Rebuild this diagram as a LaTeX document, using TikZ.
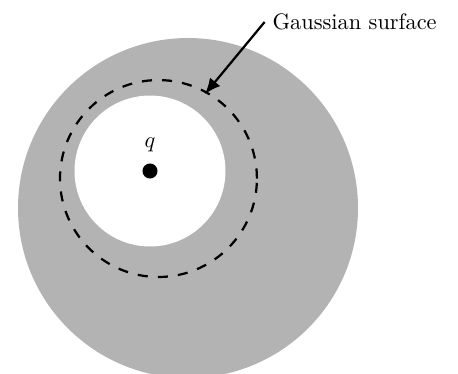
\documentclass[tikz,border=0pt]{standalone}
\usepackage{amsmath,amssymb}
\usepackage{tikz}
\usetikzlibrary{arrows.meta,positioning,calc}
\definecolor{shellgray}{RGB}{179,179,179}

\begin{document}
\begin{tikzpicture}
            \clip (-2.355,-3.187) rectangle (4.836,2.685);
            \useasboundingbox (-2.355,-3.187) rectangle (4.836,2.685);
            % conducting shell with cavity
            \fill[shellgray] (0.597,-0.581) circle (2.669);
            \fill[white] (0,0) circle (1.185);
            % gaussian surface
            \draw[line width=1pt, dash pattern=on 4.5pt off 4.5pt] (0.133,-0.118) circle (1.546);
            \coordinate (gtip) at (0.864,1.209);
            % charge
            \node[circle, fill=black, inner sep=0pt, minimum size=0.236cm] (charge) at (0,0) {};
            \node (qlabel) at (0,0.41) {$q$};
            % label
            \node[anchor=west] (gauss) at (1.80,2.34) {Gaussian surface};
            \draw[line width=1pt, -{Latex[length=7pt,width=6pt]}] (gauss.west) -- (gtip);
        \end{tikzpicture}
\end{document}
